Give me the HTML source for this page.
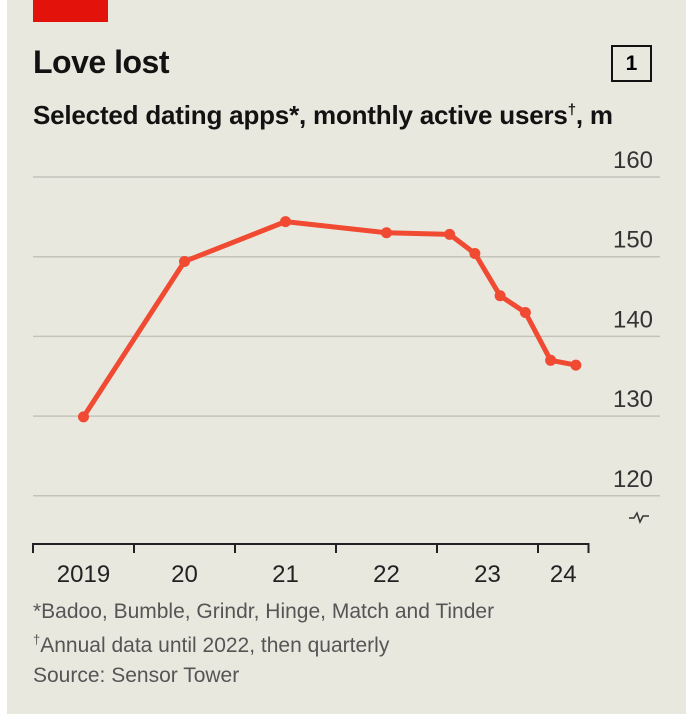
<!DOCTYPE html>
<html><head><meta charset="utf-8"><style>
body{margin:0;width:692px;height:714px;background:#fff;font-family:"Liberation Sans",sans-serif;overflow:hidden}
#panel{position:absolute;left:7px;top:0;width:679px;height:714px;background:#e9e8df}
.t{position:absolute;white-space:nowrap}
</style></head><body>
<div id="panel"></div>
<div class="t" style="left:33px;top:0;width:75px;height:22px;background:#e3120b"></div>
<div class="t" style="left:33px;top:44px;font-size:32px;font-weight:bold;color:#121212;letter-spacing:-0.5px">Love lost</div>
<div class="t" style="left:611px;top:45px;width:37px;height:33px;border:2px solid #121212;font-size:21px;font-weight:bold;text-align:center;line-height:33px">1</div>
<div class="t" style="left:33px;top:100px;font-size:26px;font-weight:bold;color:#121212;letter-spacing:-0.2px">Selected dating apps*, monthly active users<sup style="font-size:15px">†</sup>, m</div>
<svg id="chart" width="692" height="714" style="position:absolute;left:0;top:0"></svg>
<div class="t" style="left:33px;top:600px;font-size:21px;color:#555">*Badoo, Bumble, Grindr, Hinge, Match and Tinder</div>
<div class="t" style="left:33px;top:632px;font-size:21px;color:#555"><sup style="font-size:13px">†</sup>Annual data until 2022, then quarterly</div>
<div class="t" style="left:33px;top:664px;font-size:21px;color:#555">Source: Sensor Tower</div>
<script>
const yTicks=[160,150,140,130,120];
const yearLabels=["2019","20","21","22","23","24"];
const xPos=[0.5,1.5,2.5,3.5,4.125,4.375,4.625,4.875,5.125,5.375];
const values=[129.9,149.4,154.4,153.0,152.8,150.4,145.1,143.0,137.0,136.4];
const NS="http://www.w3.org/2000/svg",svg=document.getElementById('chart');
const x=t=>33+t*101, y=v=>177+(160-v)*7.97;
function mk(tag,a){const e=document.createElementNS(NS,tag);for(const k in a)e.setAttribute(k,a[k]);svg.appendChild(e);return e;}
yTicks.forEach(v=>{
 const l=mk('line',{x1:33,x2:660,y1:y(v),y2:y(v),stroke:'#c4c3bb','stroke-width':1.5});
 
 
 const t=mk('text',{x:653,y:y(v)-9,'text-anchor':'end','font-size':24,fill:'#333','font-family':'Liberation Sans, sans-serif',textLength:40,lengthAdjust:'spacingAndGlyphs'});
 t.textContent=v;
 
 
});
const br=mk('path',{d:'M629 518h5l3-5 3 9 3-6h6',fill:'none',stroke:'#333','stroke-width':1.5});


const ax=mk('line',{x1:33,x2:x(5.5),y1:544,y2:544,stroke:'#222','stroke-width':2});


[0,1,2,3,4,5,5.5].forEach(t=>{const k=mk('line',{x1:x(t),x2:x(t),y1:543,y2:553,stroke:'#222','stroke-width':2});
 
 });
yearLabels.forEach((s,i)=>{const c=i<5?x(i+0.5):x(5.25);
 const t=mk('text',{x:c,y:582,'text-anchor':'middle','font-size':24,fill:'#222','font-family':'Liberation Sans, sans-serif'});
 t.textContent=s;
 
 });
const pl=mk('polyline',{points:values.map((v,i)=>x(xPos[i])+','+y(v)).join(' '),fill:'none',stroke:'#f04a32','stroke-width':5,'stroke-linejoin':'round'});


values.forEach((v,i)=>{const c=mk('circle',{cx:x(xPos[i]),cy:y(v),r:5.5,fill:'#f04a32'});
 
 });
</script>
</body></html>
